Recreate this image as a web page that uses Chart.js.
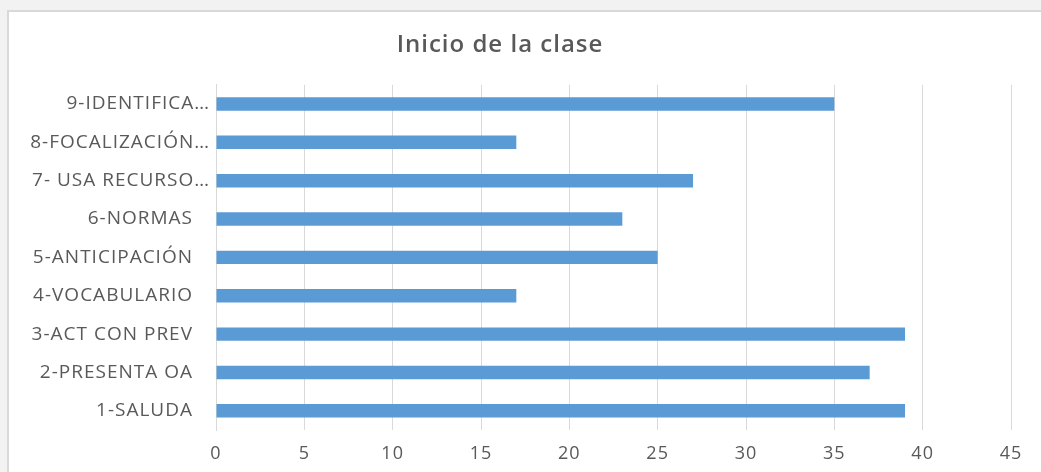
<!DOCTYPE html>
<html>
<head>
<meta charset="utf-8">
<script src="https://cdn.jsdelivr.net/npm/chart.js@4"></script>
<style>
  html, body { margin: 0; padding: 0; width: 1041px; height: 472px; overflow: hidden; background: #f2f2f2; }
  #card { position: absolute; left: 7px; top: 10px; width: 1040px; height: 470px; background: #fff;
          border-left: 2px solid #d9d9d9; border-top: 2px solid #d9d9d9; }
  #wrap { position: absolute; left: -11px; top: 0; width: 1052px; height: 472px; }
</style>
</head>
<body>
<div id="card"></div>
<div id="wrap"><canvas id="barChart"></canvas></div>
<script>
const categories = [
  "1-SALUDA",
  "2-PRESENTA OA",
  "3-ACT CON PREV",
  "4-VOCABULARIO",
  "5-ANTICIPACIÓN",
  "6-NORMAS",
  "7- USA RECURSO…",
  "8-FOCALIZACIÓN…",
  "9-IDENTIFICA…"
];
const values = [39, 37, 39, 17, 25, 23, 27, 17, 35];
const xTicks = [0, 5, 10, 15, 20, 25, 30, 35, 40, 45];

const textColor = "#595959";
const gridColor = "#d9d9d9";

// excel-like look: slightly spaced text, and the cut labels let their "…" hang past the others
const excelText = {
  id: "excelText",
  beforeDraw(chart) {
    chart.ctx.letterSpacing = "1px";
    let y = chart.scales.y;
    y.getLabelItems().forEach((item) => {
      if (!item._moved && String(item.label).endsWith("…")) {
        item.options.translation[0] += 17;
        item._moved = true;
      }
    });
  },
};

function buildBarChart() {
  new Chart(document.getElementById("barChart").getContext("2d"), {
    type: "bar",
    data: {
      labels: categories,
      datasets: [
        {
          label: "Inicio de la clase",
          data: values,
          backgroundColor: "#5b9bd5",
          borderWidth: 0,
          barPercentage: 1,
          categoryPercentage: 0.35,
        },
      ],
    },
    options: {
      indexAxis: "y",
      responsive: false,
      animation: false,
      devicePixelRatio: 1,
      layout: {
        padding: { left: 0, right: 30, top: 31, bottom: 6 },
      },
      plugins: {
        legend: { display: false },
        tooltip: { enabled: false },
        title: {
          display: true,
          text: "Inicio de la clase",
          color: textColor,
          font: { family: "Open Sans", size: 24, weight: "600" },
          padding: { top: 0, bottom: 25 },
        },
      },
      scales: {
        x: {
          min: 0,
          max: 45,
          afterBuildTicks: (scale) => {
            scale.ticks = xTicks.map((v) => ({ value: v }));
          },
          afterFit: (scale) => {
            scale.height = 36;
          },
          grid: { color: gridColor, lineWidth: 1, drawTicks: false },
          border: { display: false },
          ticks: {
            color: textColor,
            font: { family: "Open Sans", size: 18 },
            padding: 13,
          },
        },
        y: {
          reverse: true,
          afterFit: (scale) => {
            scale.width = 227;
          },
          grid: { display: false, drawTicks: false },
          border: { display: true, color: gridColor },
          ticks: {
            color: textColor,
            font: { family: "Open Sans", size: 19 },
            padding: 23,
          },
        },
      },
    },
    plugins: [excelText],
  });
}

const cv = document.getElementById("barChart");
cv.width = 1052;
cv.height = 472;
buildBarChart();
</script>
</body>
</html>
